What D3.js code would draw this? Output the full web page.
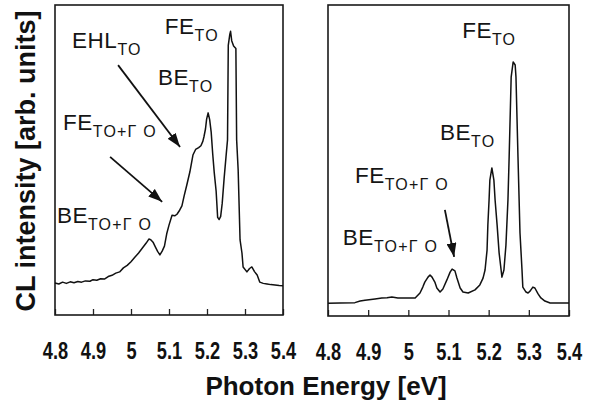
<!DOCTYPE html>
<html>
<head>
<meta charset="utf-8">
<script src="https://cdn.jsdelivr.net/npm/d3@7"></script>
<style>
  html, body { margin: 0; padding: 0; background: #fff; }
  svg { display: block; }
  .note { font-family: "Liberation Sans", Arial, sans-serif; fill: #151515; }
  .tick text { font-family: "Liberation Sans", Arial, sans-serif; font-weight: bold; fill: #111; }
</style>
</head>
<body>
<svg id="chart" width="590" height="405"></svg>
<script>
// Photon energy ticks (eV)
const energyTicks = [4.8, 4.9, 5.0, 5.1, 5.2, 5.3, 5.4];
const tickLabels = ["4.8", "4.9", "5", "5.1", "5.2", "5.3", "5.4"];

// Left spectrum: [photon energy eV, CL intensity arb. units]
const spectrumA = [
  [4.800,.103],[4.810,.100],[4.820,.106],[4.830,.102],[4.840,.107],[4.850,.104],
  [4.860,.108],[4.870,.106],[4.880,.110],[4.892,.109],[4.900,.114],[4.910,.112],
  [4.920,.117],[4.930,.116],[4.940,.124],[4.950,.128],[4.960,.135],[4.970,.139],
  [4.980,.152],[4.990,.160],[5.000,.172],[5.010,.186],[5.020,.200],[5.030,.216],
  [5.040,.232],[5.047,.245],[5.052,.243],[5.058,.235],[5.064,.220],[5.070,.205],
  [5.076,.194],[5.082,.206],[5.088,.222],[5.094,.262],[5.100,.290],[5.108,.322],
  [5.115,.320],[5.121,.325],[5.128,.338],[5.134,.352],[5.140,.385],[5.147,.420],
  [5.155,.462],[5.163,.516],[5.170,.534],[5.178,.540],[5.184,.546],[5.189,.560],
  [5.192,.575],[5.196,.600],[5.199,.632],[5.203,.652],[5.207,.630],[5.211,.590],
  [5.215,.520],[5.219,.460],[5.224,.400],[5.228,.315],[5.232,.308],[5.236,.318],
  [5.240,.360],[5.245,.440],[5.250,.510],[5.254,.565],[5.256,.870],[5.260,.905],
  [5.262,.915],[5.265,.885],[5.270,.868],[5.276,.860],[5.278,.565],[5.282,.468],
  [5.287,.242],[5.292,.200],[5.295,.155],[5.305,.139],[5.312,.150],[5.318,.155],
  [5.325,.140],[5.332,.129],[5.339,.106],[5.348,.102],[5.358,.100],[5.368,.098],
  [5.379,.097],[5.390,.095],[5.400,.094]
];

// Right spectrum: [photon energy eV, CL intensity arb. units]
const spectrumB = [
  [4.800,.041],[4.830,.042],[4.867,.043],[4.880,.048],[4.892,.051],[4.917,.055],
  [4.934,.058],[4.947,.059],[4.959,.061],[4.974,.058],[4.992,.058],[5.017,.058],
  [5.029,.074],[5.036,.093],[5.041,.109],[5.049,.125],[5.054,.132],[5.059,.125],
  [5.066,.109],[5.071,.090],[5.079,.077],[5.086,.087],[5.096,.116],[5.104,.141],
  [5.109,.151],[5.116,.145],[5.121,.122],[5.129,.090],[5.136,.077],[5.149,.074],
  [5.166,.084],[5.178,.100],[5.186,.122],[5.191,.148],[5.196,.212],[5.198,.293],
  [5.201,.373],[5.203,.437],[5.208,.476],[5.213,.437],[5.216,.373],[5.221,.293],
  [5.226,.203],[5.231,.148],[5.233,.125],[5.238,.148],[5.243,.228],[5.248,.373],
  [5.251,.511],[5.256,.768],[5.261,.817],[5.266,.807],[5.268,.768],[5.273,.511],
  [5.278,.267],[5.283,.148],[5.285,.093],[5.293,.077],[5.298,.074],[5.303,.080],
  [5.310,.093],[5.315,.090],[5.323,.071],[5.330,.058],[5.340,.048],[5.353,.042],
  [5.365,.042],[5.400,.042]
];

// Peak labels: [main text, subscript, energy, intensity] at the label's baseline start
const labelsA = [
  ["FE", "TO", 5.089, .906],
  ["EHL", "TO", 4.845, .861],
  ["BE", "TO", 5.071, .742],
  ["FE", "TO+\u0393 O", 4.821, .597],
  ["BE", "TO+\u0393 O", 4.805, .297]
];
const labelsB = [
  ["FE", "TO", 5.134, .894],
  ["BE", "TO", 5.079, .566],
  ["FE", "TO+\u0393 O", 4.867, .428],
  ["BE", "TO+\u0393 O", 4.837, .228]
];

// Arrows: [from energy, from intensity, to energy, to intensity]
const arrowsA = [
  [4.966, .806, 5.129, .542],
  [4.945, .510, 5.082, .365]
];
const arrowsB = [
  [5.091, .341, 5.114, .190]
];

const svg = d3.select("#chart");

svg.append("defs").append("marker")
  .attr("id", "head")
  .attr("markerUnits", "userSpaceOnUse")
  .attr("viewBox", "0 0 14 10")
  .attr("refX", 14).attr("refY", 5)
  .attr("markerWidth", 14).attr("markerHeight", 10)
  .attr("orient", "auto")
  .append("path")
  .attr("d", "M0,0 L14,5 L0,10 Z")
  .attr("fill", "#111");

function panel(cfg) {
  const x = d3.scaleLinear().domain([4.8, 5.4]).range([cfg.left, cfg.right]);
  const y = d3.scaleLinear().domain([0, 1]).range([cfg.bottom, cfg.top]);
  const g = svg.append("g");

  // inward ticks along the bottom edge with labels below
  const axis = d3.axisBottom(x)
    .tickValues(energyTicks)
    .tickFormat((d, i) => tickLabels[i])
    .tickSizeInner(-6).tickSizeOuter(0).tickPadding(27);
  const ax = g.append("g")
    .attr("transform", `translate(0,${cfg.bottom})`)
    .call(axis);
  ax.select(".domain").remove();
  ax.selectAll(".tick line").attr("stroke", "#222").attr("stroke-width", 1.3);
  ax.selectAll(".tick text")
    .attr("font-size", 24)
    .attr("transform", "scale(0.76,1)");

  // frame
  g.append("rect")
    .attr("x", cfg.left).attr("y", cfg.top)
    .attr("width", cfg.right - cfg.left).attr("height", cfg.bottom - cfg.top)
    .attr("fill", "none").attr("stroke", "#1a1a1a").attr("stroke-width", 1.6);

  // spectrum
  const line = d3.line().x(d => x(d[0])).y(d => y(d[1]));
  g.append("path")
    .datum(cfg.data)
    .attr("d", line)
    .attr("fill", "none")
    .attr("stroke", "#111")
    .attr("stroke-width", 1.5)
    .attr("stroke-linejoin", "round");

  // arrows
  g.selectAll("line.arrow").data(cfg.arrows).join("line")
    .attr("class", "arrow")
    .attr("x1", d => x(d[0])).attr("y1", d => y(d[1]))
    .attr("x2", d => x(d[2])).attr("y2", d => y(d[3]))
    .attr("stroke", "#111").attr("stroke-width", 1.8)
    .attr("marker-end", "url(#head)");

  // peak labels
  const t = g.selectAll("text.note").data(cfg.labels).join("text")
    .attr("class", "note")
    .attr("x", d => x(d[2])).attr("y", d => y(d[3]));
  t.append("tspan").attr("font-size", 22.5).attr("letter-spacing", 0.5).text(d => d[0]);
  t.append("tspan").attr("font-size", 16).attr("dy", 7).attr("letter-spacing", 1.2).text(d => d[1]);
}

panel({ left: 55, right: 283, top: 5, bottom: 315, data: spectrumA, labels: labelsA, arrows: arrowsA });
panel({ left: 328, right: 569, top: 5, bottom: 316, data: spectrumB, labels: labelsB, arrows: arrowsB });

// axis titles
svg.append("text")
  .attr("transform", "translate(35,161) rotate(-90)")
  .attr("text-anchor", "middle")
  .attr("font-family", "Liberation Sans, Arial, sans-serif")
  .attr("font-weight", "bold").attr("font-size", 27).attr("fill", "#111")
  .text("CL intensity [arb. units]");

svg.append("text")
  .attr("x", 326).attr("y", 395)
  .attr("text-anchor", "middle")
  .attr("font-family", "Liberation Sans, Arial, sans-serif")
  .attr("font-weight", "bold").attr("font-size", 26).attr("fill", "#111")
  .text("Photon Energy [eV]");
</script>
</body>
</html>
